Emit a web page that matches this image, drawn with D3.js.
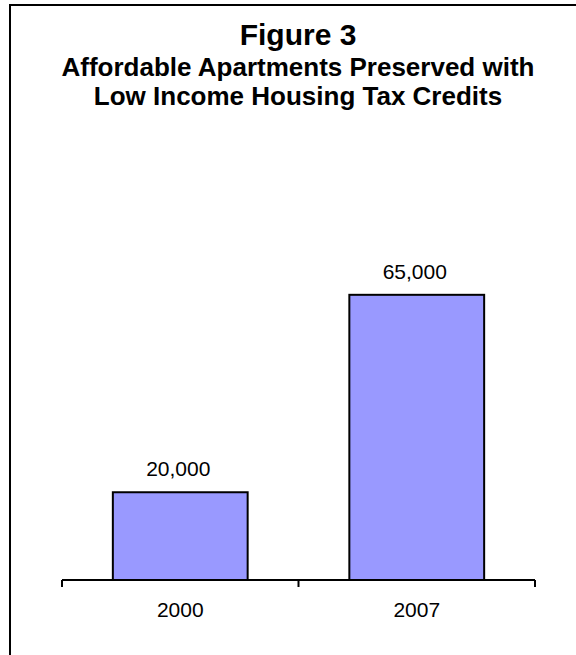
<!DOCTYPE html>
<html>
<head>
<meta charset="utf-8">
<script src="https://cdn.jsdelivr.net/npm/d3@7"></script>
<style>
  body { margin: 0; background: #fff; }
  svg { display: block; font-family: "Liberation Sans", Arial, sans-serif; }
</style>
</head>
<body>
<div class="chart"></div>
<script>
const width = 576;
const height = 655;

// data
const years = ["2000", "2007"];
const units = [20000, 65000];
const titleLines = [
    "Affordable Apartments Preserved with",
    "Low Income Housing Tax Credits"
];

const plot = { left: 62, right: 535, bottom: 580, top: 229 };

let svg = d3.select(".chart")
    .append("svg")
    .attr("width", width)
    .attr("height", height);

// outer frame (runs off the right and bottom edges)
svg.append("rect")
    .attr("x", 10)
    .attr("y", 5)
    .attr("width", 700)
    .attr("height", 800)
    .attr("fill", "none")
    .attr("stroke", "black")
    .attr("stroke-width", 2);

// titles
svg.append("text")
    .text("Figure 3")
    .attr("x", 298)
    .attr("y", 45)
    .attr("text-anchor", "middle")
    .attr("font-size", 30)
    .attr("font-weight", "bold");
svg.append("g")
    .selectAll("text")
    .data(titleLines)
    .enter()
    .append("text")
    .text(d => d)
    .attr("x", 298)
    .attr("y", (d, i) => 76 + i * 29)
    .attr("text-anchor", "middle")
    .attr("font-size", 26)
    .attr("font-weight", "bold");

let xScale = d3.scaleBand()
    .domain(years)
    .range([plot.left, plot.right])
    .paddingInner(0.43)
    .paddingOuter(0.215);

let yScale = d3.scaleLinear()
    .domain([0, 80000])
    .range([plot.bottom, plot.top]);

// bars
svg.append("g")
    .selectAll("rect")
    .data(years)
    .enter()
    .append("rect")
    .attr("x", d => xScale(d))
    .attr("y", (d, i) => yScale(units[i]))
    .attr("width", xScale.bandwidth())
    .attr("height", (d, i) => yScale(0) - yScale(units[i]))
    .attr("fill", "#9999ff")
    .attr("stroke", "black")
    .attr("stroke-width", 2);

// value labels
svg.append("g")
    .selectAll("text")
    .data(years)
    .enter()
    .append("text")
    .text((d, i) => d3.format(",")(units[i]))
    .attr("x", d => xScale(d) + xScale.bandwidth() / 2 - 2)
    .attr("y", (d, i) => yScale(units[i]) - 16)
    .attr("text-anchor", "middle")
    .attr("font-size", 21);

// category axis, ticks between categories like Excel
let step = xScale.step();
let tickPos = d3.range(years.length + 1).map(i => plot.left + i * step);
let axis = svg.append("g").attr("class", "xAxis");
axis.append("line")
    .attr("x1", plot.left)
    .attr("x2", plot.right)
    .attr("y1", yScale(0))
    .attr("y2", yScale(0))
    .attr("stroke", "black")
    .attr("stroke-width", 2);
axis.selectAll(".tick")
    .data(tickPos)
    .enter()
    .append("line")
    .attr("class", "tick")
    .attr("x1", d => d)
    .attr("x2", d => d)
    .attr("y1", yScale(0))
    .attr("y2", yScale(0) + 7)
    .attr("stroke", "black")
    .attr("stroke-width", 2);
axis.selectAll(".label")
    .data(years)
    .enter()
    .append("text")
    .attr("class", "label")
    .text(d => d)
    .attr("x", d => xScale(d) + xScale.bandwidth() / 2)
    .attr("y", 617)
    .attr("text-anchor", "middle")
    .attr("font-size", 21);
</script>
</body>
</html>
